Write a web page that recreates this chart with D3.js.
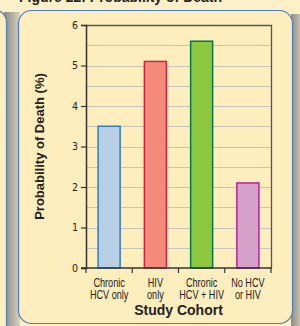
<!DOCTYPE html>
<html>
<meta charset="utf-8">
<style>
body { margin: 0; background: #fdf0c9; }
svg { display: block; }
.tick text { font-family: "DejaVu Sans", sans-serif; font-stretch: condensed; font-size: 10.5px; fill: #222; }
</style>
<head>
<script src="https://d3js.org/d3.v7.min.js"></script>
</head>
<body>
<script>
// chart data
var cohorts = [["Chronic", "HCV only"], ["HIV", "only"], ["Chronic", "HCV + HIV"], ["No HCV", "or HIV"]];
var deathPct = [3.5, 5.1, 5.6, 2.1];
var fills = ["#b8cfe6", "#f48b7a", "#8dc63f", "#d5a0c9"];
var strokes = ["#2f7ec0", "#cf2344", "#00784a", "#b5229a"];
var yTicks = [0, 1, 2, 3, 4, 5, 6];

var W = 300, H = 326;
var plot = {left: 86, right: 271, top: 25, bottom: 268};

var svg = d3.select("body").append("svg")
    .attr("width", W)
    .attr("height", H);

var defs = svg.append("defs");
var grad = defs.append("linearGradient").attr("id", "shade");
grad.append("stop").attr("offset", "0%").attr("stop-color", "#8e8a80");
grad.append("stop").attr("offset", "100%").attr("stop-color", "#d8d2c0");

// shadows behind panels
svg.append("rect").attr("x", 4).attr("y", 12).attr("width", 16).attr("height", 320).attr("fill", "url(#shade)");
svg.append("rect").attr("x", 291).attr("y", 14).attr("width", 12).attr("height", 320).attr("fill", "url(#shade)");

// left neighbour panel
svg.append("rect")
    .attr("x", -30).attr("y", 10).attr("width", 36.5).attr("height", 330)
    .attr("rx", 12)
    .attr("fill", "#feedbd").attr("stroke", "#4a7fc1").attr("stroke-width", 1.2);

// main panel
svg.append("rect")
    .attr("x", 18.5).attr("y", 10.5).attr("width", 274).attr("height", 313)
    .attr("rx", 13)
    .attr("fill", "#feedbd").attr("stroke", "#4a7fc1").attr("stroke-width", 1.2);

// title mostly cut off at the top
svg.append("text")
    .attr("x", 19).attr("y", 2)
    .style("font-family", "Liberation Sans, Arial, sans-serif")
    .style("font-weight", "bold").style("font-size", "14px").attr("fill", "#222")
    .text("Figure 22: Probability of Death");

var x = d3.scaleBand()
    .domain(d3.range(cohorts.length))
    .range([plot.left, plot.right])
    .paddingInner(0).paddingOuter(0);

var y = d3.scaleLinear().domain([0, 6]).range([plot.bottom, plot.top]);

// half-unit gridlines
svg.append("g").selectAll("line")
    .data(d3.range(0.5, 6, 0.5))
    .enter().append("line")
    .attr("x1", plot.left).attr("x2", plot.right)
    .attr("y1", function(d) { return Math.round(y(d)) + 0.5; })
    .attr("y2", function(d) { return Math.round(y(d)) + 0.5; })
    .attr("stroke", "#c6c4bc").attr("stroke-width", 1);

// frame top and right
svg.append("path")
    .attr("d", "M" + plot.left + "," + (plot.top + 0.5) + "H" + (plot.right + 0.5) + "V" + plot.bottom)
    .attr("fill", "none").attr("stroke", "#555").attr("stroke-width", 1.3);

// bars
var bw = 22;
svg.append("g").selectAll("rect")
    .data(deathPct)
    .enter().append("rect")
    .attr("x", function(d, i) { return x(i) + (x.bandwidth() - bw) / 2; })
    .attr("y", function(d) { return y(d); })
    .attr("width", bw)
    .attr("height", function(d) { return y(0) - y(d); })
    .attr("fill", function(d, i) { return fills[i]; })
    .attr("stroke", function(d, i) { return strokes[i]; })
    .attr("stroke-width", 1.5);

// y axis
var yAxis = svg.append("g")
    .attr("transform", "translate(" + plot.left + ",0)")
    .call(d3.axisLeft(y).tickValues(yTicks).tickSize(5).tickPadding(3).tickFormat(d3.format("d")));
yAxis.select(".domain").attr("stroke", "#333").attr("stroke-width", 1.5);
yAxis.selectAll(".tick line").attr("stroke", "#333").attr("stroke-width", 1.2);

// x axis with ticks at the band edges
var xAxis = svg.append("g").attr("transform", "translate(0," + plot.bottom + ")");
xAxis.append("line")
    .attr("x1", plot.left - 5).attr("x2", plot.right + 1)
    .attr("stroke", "#333").attr("stroke-width", 1.5);
xAxis.selectAll("line.edge")
    .data(d3.range(cohorts.length + 1))
    .enter().append("line")
    .attr("class", "edge")
    .attr("x1", function(i) { return i < cohorts.length ? x(i) : plot.right; })
    .attr("x2", function(i) { return i < cohorts.length ? x(i) : plot.right; })
    .attr("y1", 0).attr("y2", 5)
    .attr("stroke", "#333").attr("stroke-width", 1.2);

// category labels, squeezed horizontally like a condensed face
var lab = svg.append("g").selectAll("text")
    .data(cohorts)
    .enter().append("text")
    .attr("text-anchor", "middle")
    .attr("transform", function(d, i) {
        return "translate(" + (x(i) + x.bandwidth() / 2) + ",286.5) scale(0.76,1)";
    })
    .style("font-family", "Liberation Sans, Arial, sans-serif")
    .style("font-size", "12px").attr("fill", "#222");
lab.append("tspan").attr("x", 0).text(function(d) { return d[0]; });
lab.append("tspan")
    .attr("x", 0)
    .attr("dy", 12.5)
    .text(function(d) { return d[1]; });

// axis titles
svg.append("text")
    .attr("x", (plot.left + plot.right) / 2).attr("y", 315)
    .attr("text-anchor", "middle")
    .style("font-family", "Liberation Sans, Arial, sans-serif")
    .style("font-weight", "bold").style("font-size", "14px").attr("fill", "#222")
    .text("Study Cohort");

svg.append("text")
    .attr("transform", "translate(44," + ((plot.top + plot.bottom) / 2) + ") rotate(-90)")
    .attr("text-anchor", "middle")
    .style("font-family", "Liberation Sans, Arial, sans-serif")
    .style("font-weight", "bold").style("font-size", "13px").attr("fill", "#222")
    .text("Probability of Death (%)");
</script>
</body>
</html>
